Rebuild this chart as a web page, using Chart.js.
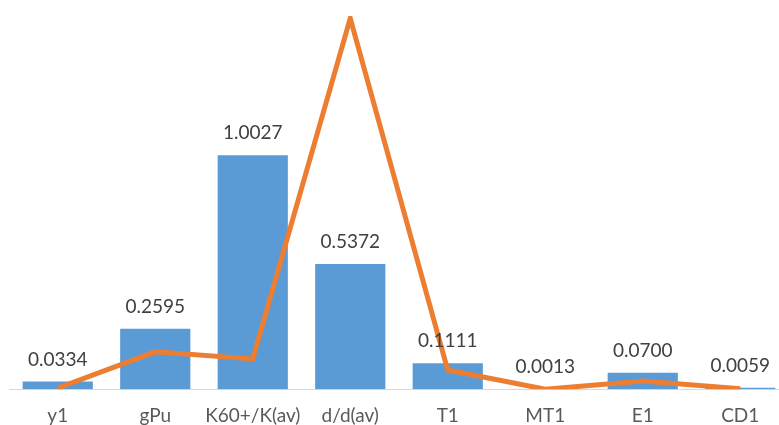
<!DOCTYPE html>
<html>
<head>
<meta charset="utf-8">
<script src="https://cdn.jsdelivr.net/npm/chart.js@4.4.0/dist/chart.umd.min.js"></script>
<style>
  html, body { margin: 0; padding: 0; background: #fff; overflow: hidden; }
  #wrap { width: 779px; height: 425px; overflow: hidden; position: relative; }
  canvas { position: absolute; left: 0; top: 0; }
</style>
</head>
<body>
<div id="wrap"><canvas id="chart" width="790" height="445"></canvas></div>
<script>
// categories and series
const categories = ['y1', 'gPu', 'K60+/K(av)', 'd/d(av)', 'T1', 'MT1', 'E1', 'CD1'];
const barValues = [0.0334, 0.2595, 1.0027, 0.5372, 0.1111, 0.0013, 0.0700, 0.0059];
const lineValues = [0.005, 0.16, 0.13, 1.59, 0.082, 0.0, 0.035, 0.002];

// draws the value text above each bar
const barLabels = {
    id: 'barLabels',
    afterDatasetsDraw(chart) {
        const ctx = chart.ctx;
        const meta = chart.getDatasetMeta(1);
        ctx.save();
        ctx.font = '19px Lato, "Liberation Sans", sans-serif';
        ctx.fillStyle = '#404040';
        ctx.textAlign = 'center';
        ctx.textBaseline = 'middle';
        meta.data.forEach((bar, i) => {
            ctx.fillText(barValues[i].toFixed(4), bar.x, bar.y - 22);
        });
        ctx.restore();
    }
};

const ctx = document.getElementById('chart').getContext('2d');
new Chart(ctx, {
    data: {
        labels: categories,
        datasets: [
            {
                type: 'line',
                data: lineValues,
                borderColor: '#ED7D31',
                borderWidth: 5,
                pointRadius: 0,
                tension: 0,
                order: 0
            },
            {
                type: 'bar',
                data: barValues,
                backgroundColor: '#5B9BD5',
                categoryPercentage: 1,
                barPercentage: 0.72,
                order: 1
            }
        ]
    },
    options: {
        responsive: false,
        animation: false,
        layout: { padding: { left: 9, right: 1, top: 16, bottom: 11 } },
        plugins: {
            legend: { display: false },
            tooltip: { enabled: false }
        },
        scales: {
            x: {
                grid: { display: false },
                border: { display: true, color: '#D9D9D9', width: 1 },
                ticks: {
                    color: '#595959',
                    padding: 7,
                    maxRotation: 0,
                    autoSkip: false,
                    font: { family: 'Lato, "Liberation Sans", sans-serif', size: 19 }
                }
            },
            y: {
                display: false,
                min: 0,
                max: 1.6
            }
        }
    },
    plugins: [barLabels]
});
</script>
</body>
</html>
